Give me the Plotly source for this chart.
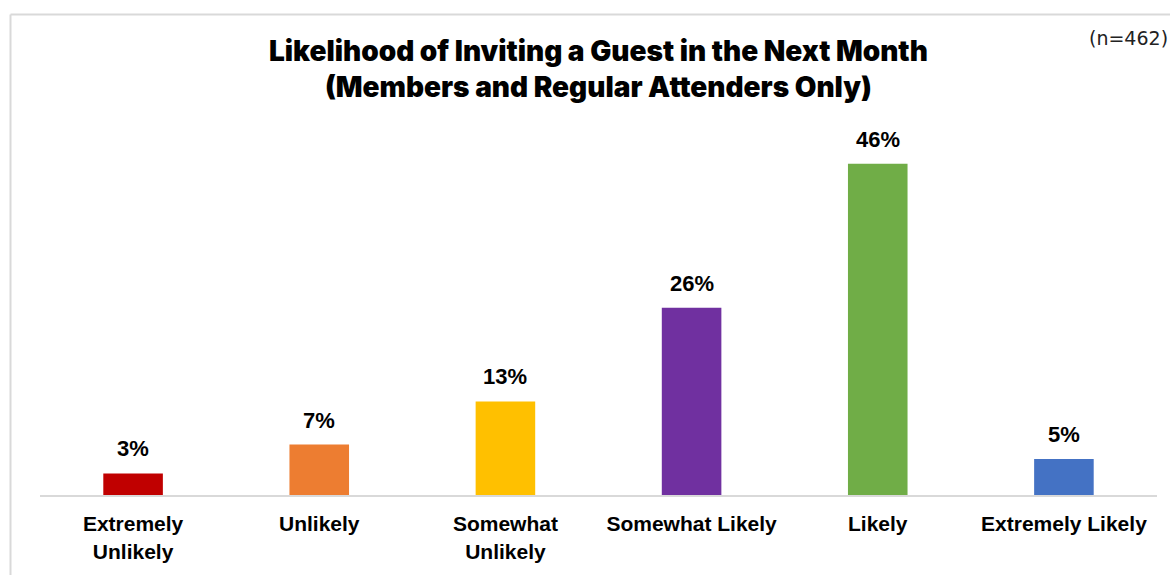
import plotly.graph_objects as go

# Survey responses
categories = ["Extremely<br>Unlikely", "Unlikely", "Somewhat<br>Unlikely",
              "Somewhat Likely", "Likely", "Extremely Likely"]
percentages = [3, 7, 13, 26, 46, 5]
bar_colors = ["#C00000", "#ED7D31", "#FFC000", "#7030A0", "#70AD47", "#4472C4"]

W, H = 1170, 575
ML, MR, MT, MB = 40, 13, 135, 80

fig = go.Figure(go.Bar(
    x=categories,
    y=percentages,
    marker=dict(color=bar_colors, line=dict(width=0)),
    width=0.32,
    hoverinfo="skip",
))

# value labels above each bar
for cat, val in zip(categories, percentages):
    fig.add_annotation(
        x=cat, y=val, text=f"{val}%", showarrow=False,
        yanchor="bottom", yshift=10,
        font=dict(family="Liberation Sans", size=22, color="#000000", weight="bold"),
    )

# title and sample size
fig.add_annotation(
    xref="paper", yref="paper", x=0.5, y=(495 - 32) / 360,
    text="Likelihood of Inviting a Guest in the Next Month<br>(Members and Regular Attenders Only)",
    showarrow=False, yanchor="top", xanchor="center", align="center",
    font=dict(family="Inter", size=28, color="#000000", weight=900),
)
fig.add_annotation(
    xref="paper", yref="paper", x=(1170 - ML) / (W - ML - MR), y=(495 - 25) / 360,
    text="(n=462)", showarrow=False, xanchor="right", yanchor="top",
    font=dict(family="DejaVu Sans", size=19, color="#222222"),
)

# outer frame (top and left edges)
pw, ph = W - ML - MR, H - MT - MB
fx0 = (10.5 - ML) / pw
fy_top = (H - MB - 14.5) / ph
fig.add_shape(type="line", xref="paper", yref="paper",
              x0=fx0, x1=(W + 20 - ML) / pw, y0=fy_top, y1=fy_top,
              line=dict(color="#D9D9D9", width=2))
fig.add_shape(type="line", xref="paper", yref="paper",
              x0=fx0, x1=fx0, y0=fy_top, y1=-(MB + 20) / ph,
              line=dict(color="#D9D9D9", width=2))

fig.update_layout(
    width=W, height=H,
    margin=dict(l=ML, r=MR, t=MT, b=MB),
    paper_bgcolor="#FFFFFF", plot_bgcolor="#FFFFFF",
    showlegend=False,
    xaxis=dict(
        showline=True, linecolor="#D9D9D9", linewidth=2,
        showgrid=False, zeroline=False, ticks="",
        ticklabelstandoff=9,
        tickfont=dict(family="Liberation Sans", size=21, color="#000000", weight="bold"),
        fixedrange=True,
    ),
    yaxis=dict(
        range=[0, 50], visible=False, showgrid=False, zeroline=False,
        fixedrange=True,
    ),
)

fig.write_html("out.html", config={"displayModeBar": False})
